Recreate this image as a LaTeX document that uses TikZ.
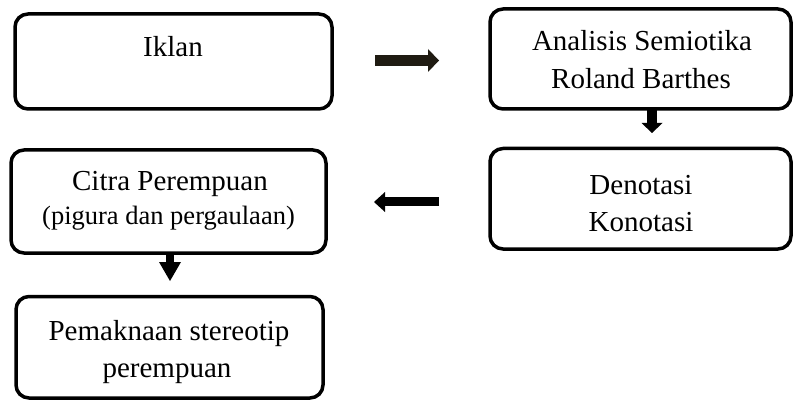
\documentclass[tikz,border=0pt]{standalone}
\usepackage{fontspec}
\setmainfont{Liberation Serif}
\usetikzlibrary{arrows.meta}
\definecolor{arrowdark}{HTML}{1F1B12}

\begin{document}
\begin{tikzpicture}[x=1pt,y=-1pt]
        \tikzstyle{box}=[draw, shape=rectangle, line width=3.5pt, rounded corners=13pt, inner sep=0pt, outer sep=0pt];
        \tikzstyle{txt}=[inner sep=0pt, anchor=base, font=\fontsize{29}{37}\selectfont];
        \tikzstyle{smalltxt}=[inner sep=0pt, anchor=base, font=\fontsize{26.5}{32}\selectfont];
        \tikzstyle{blockarrow}=[line width=10pt, -{Triangle[length=10pt, width=21pt, line width=0pt]}];
        \useasboundingbox (0,0) rectangle (793,401);

        % boxes
        \node[box, minimum width=317pt, minimum height=95pt] (iklan) at (173.5,61.5) {};
        \node[box, minimum width=301pt, minimum height=100pt] (analisis) at (640.5,59) {};
        \node[box, minimum width=301pt, minimum height=100.5pt] (denotasi) at (640.5,198.75) {};
        \node[box, minimum width=315pt, minimum height=103pt] (citra) at (168.5,201.5) {};
        \node[box, minimum width=307pt, minimum height=101.5pt] (makna) at (169.5,347.25) {};

        % texts
        \node[txt] (iklan-t) at (173,57) {Iklan};
        \node[txt] (analisis-t1) at (642,51) {Analisis Semiotika};
        \node[txt] (analisis-t2) at (641,89) {Roland Barthes};
        \node[txt] (denotasi-t1) at (641,195) {Denotasi};
        \node[txt] (denotasi-t2) at (641,232) {Konotasi};
        \node[txt] (citra-t1) at (170,191) {Citra Perempuan};
        \node[smalltxt] (citra-t2) at (168.5,224) {(pigura dan pergaulaan)};
        \node[txt] (makna-t1) at (169,340) {Pemaknaan stereotip};
        \node[txt] (makna-t2) at (167,377) {perempuan};

        % arrows
        \coordinate (right-start) at (375,60.5);
        \coordinate (right-end) at (439,60.5);
        \coordinate (left-start) at (439,202);
        \coordinate (left-end) at (374,202);
        \coordinate (down1-end) at (652,133);
        \coordinate (down2-end) at (170,281);
        \draw[blockarrow, arrowdark, line width=11pt, -{Triangle[length=11pt, width=23pt, line width=0pt]}] (right-start) -- (right-end);
        \draw[blockarrow, line width=9pt, -{Triangle[length=11pt, width=20pt, line width=0pt]}] (left-start) -- (left-end);
        \draw[blockarrow] (analisis.south -| down1-end) -- (down1-end);
        \draw[blockarrow, line width=8pt, -{Triangle[length=19pt, width=22pt, line width=0pt]}] (citra.south -| down2-end) -- (down2-end);
\end{tikzpicture}
\end{document}
